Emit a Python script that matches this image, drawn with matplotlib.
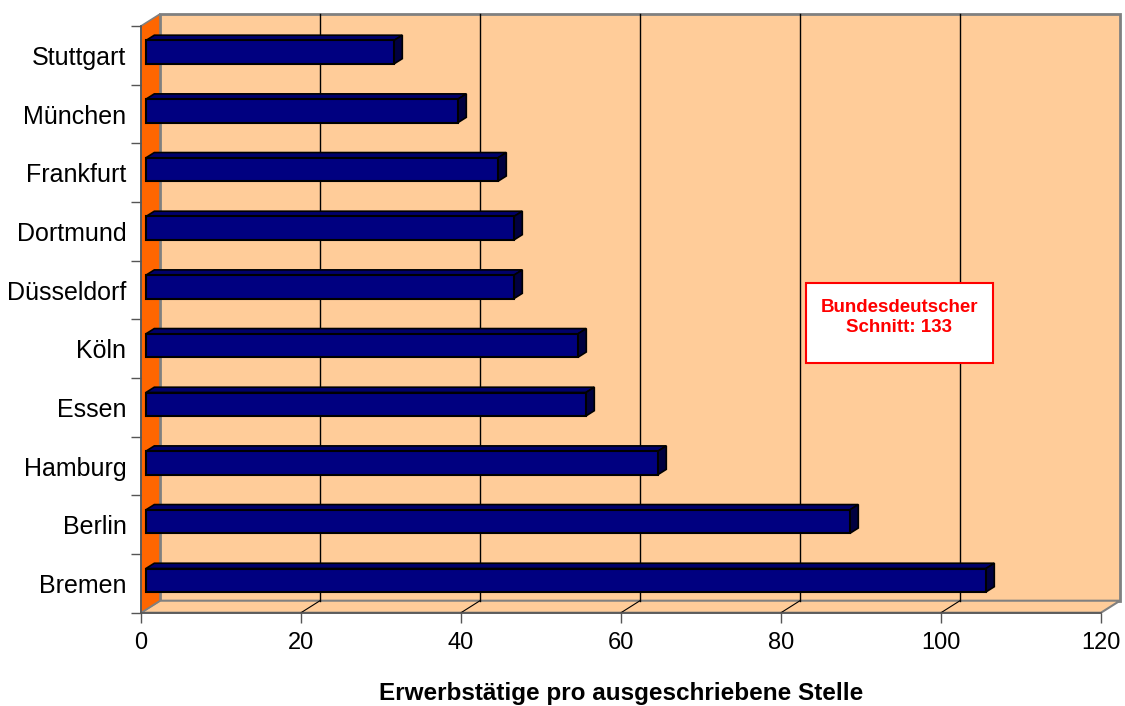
import numpy as np
import matplotlib
matplotlib.use("Agg")
import matplotlib.pyplot as plt
from matplotlib.patches import Polygon, Rectangle

# data
cities = ["Stuttgart", "München", "Frankfurt", "Dortmund", "Düsseldorf",
          "Köln", "Essen", "Hamburg", "Berlin", "Bremen"]
werte = [31, 39, 44, 46, 46, 54, 55, 64, 88, 105]
x_ticks = [0, 20, 40, 60, 80, 100, 120]
x_label = "Erwerbstätige pro ausgeschriebene Stelle"
box_text = "Bundesdeutscher\nSchnitt: 133"

plt.rcParams['font.family'] = ['Liberation Sans', 'DejaVu Sans']

fig = plt.figure(figsize=(11.25, 7.06), dpi=100)
ax = fig.add_axes([141 / 1125, (706 - 612.7) / 706, 960 / 1125, 586.7 / 706])
n = len(cities)
xmax = x_ticks[-1]
ax.set_xlim(0, xmax)
ax.set_ylim(n - 0.5, -0.5)

# pseudo 3d: full depth = 19 px right, 12 px up
DX = 19 / 8.0
DY = 12 / 58.67
def P(v, c, d):
    return (v + d * DX, c - d * DY)

bot, top = n - 0.5, -0.5
wall = '#FFCC99'
edge = '#808080'

# back wall, floor, left wall
ax.add_patch(Polygon([P(0, bot, 1), P(xmax, bot, 1), P(xmax, top, 1), P(0, top, 1)],
                     closed=True, fc=wall, ec=edge, lw=2, clip_on=False, zorder=0))
ax.add_patch(Polygon([P(0, bot, 0), P(xmax, bot, 0), P(xmax, bot, 1), P(0, bot, 1)],
                     closed=True, fc=wall, ec=edge, lw=1.5, clip_on=False, zorder=0))
ax.add_patch(Polygon([P(0, bot, 0), P(0, top, 0), P(0, top, 1), P(0, bot, 1)],
                     closed=True, fc='#FF6600', ec=edge, lw=1.2, clip_on=False, zorder=1))

# gridlines on back wall + floor diagonals
for t in x_ticks[1:-1]:
    x0, y0 = P(t, bot, 1)
    x1, y1 = P(t, top, 1)
    ax.plot([x0, x1], [y0, y1], color='black', lw=1, zorder=0.5, clip_on=False)
    a, b = P(t, bot, 0)
    ax.plot([a, x0], [b, y0], color='black', lw=0.8, zorder=0.5, clip_on=False)

# bars
d0, d1 = 0.26, 0.70
h = 0.2
ypos = np.arange(n)
ax.barh(ypos - d0 * DY, werte, left=d0 * DX, height=2 * h,
        color='#000080', edgecolor='black', lw=1.5, zorder=3)
for c, v in zip(ypos, werte):
    top_face = [P(0, c - h, d0), P(v, c - h, d0), P(v, c - h, d1), P(0, c - h, d1)]
    side_face = [P(v, c - h, d0), P(v, c + h, d0), P(v, c + h, d1), P(v, c - h, d1)]
    ax.add_patch(Polygon(top_face, closed=True, fc='#00006A', ec='black', lw=1.2, zorder=2.5))
    ax.add_patch(Polygon(side_face, closed=True, fc='#000040', ec='black', lw=1.2, zorder=2.5))

# axes styling
for s in ['top', 'right']:
    ax.spines[s].set_visible(False)
for s in ['left', 'bottom']:
    ax.spines[s].set_color('#555555')
    ax.spines[s].set_linewidth(1.2)
    ax.spines[s].set_zorder(4)

ax.set_xticks(x_ticks)
ax.set_xticklabels([str(t) for t in x_ticks], fontsize=17)
ax.tick_params(axis='x', length=7.2, width=1, color='#555555', pad=7)

ax.set_yticks(np.arange(-0.5, n, 1))
ax.set_yticklabels([])
ax.set_yticks(ypos, minor=True)
ax.set_yticklabels(cities, minor=True, fontsize=18)
ax.tick_params(axis='y', which='major', length=7.2, width=1, color='#555555')
ax.tick_params(axis='y', which='minor', length=0, pad=10.5)

ax.set_xlabel(x_label, fontsize=17.5, fontweight='bold', labelpad=20)

# annotation box
ax.add_patch(Rectangle((83.1, 3.88), 106.5 - 83.1, 5.24 - 3.88,
                       fc='white', ec='#FF0000', lw=1.5, zorder=5))
ax.text(94.75, 4.47, box_text, ha='center', va='center', color='#FF0000',
        fontsize=13.5, fontweight='bold', linespacing=1.2, zorder=6)

fig.savefig("out.png", dpi=100)
